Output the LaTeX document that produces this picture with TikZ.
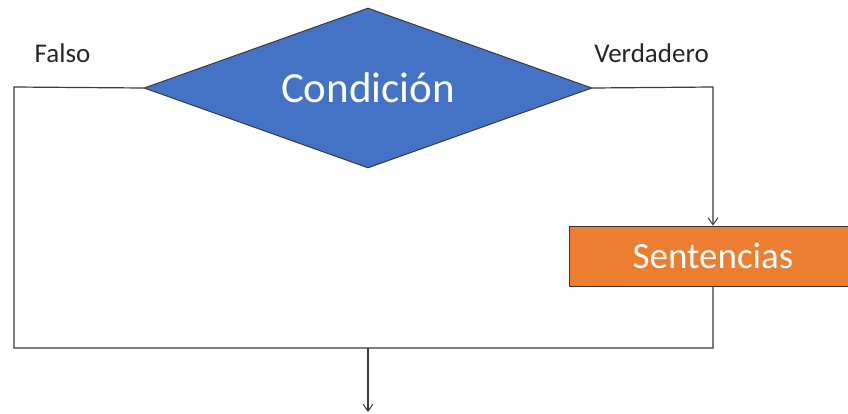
\documentclass[tikz,border=0pt]{standalone}
\usepackage{fontspec}
\setmainfont{Carlito}
\usetikzlibrary{shapes.geometric,arrows.meta}
\definecolor{condblue}{HTML}{4472C4}
\definecolor{sentorange}{HTML}{ED7D31}
\definecolor{linegray}{HTML}{3A3A3A}
\begin{document}
\begin{tikzpicture}[x=1pt,y=-1pt,
  decision/.style={diamond, draw=black!80, line width=0.9pt, fill=condblue,
    minimum width=448pt, minimum height=160pt, inner sep=0pt, aspect=2.8,
    text=white, font=\fontsize{43}{45}\selectfont},
  process/.style={rectangle, draw=black!80, line width=0.9pt, fill=sentorange,
    minimum width=288pt, minimum height=60pt, inner sep=0pt,
    text=white, font=\fontsize{37}{39}\selectfont},
  flow/.style={draw=linegray, line width=1.2pt},
  flowarrow/.style={flow, -{Straight Barb[length=7pt,width=10pt,line width=1pt]}},
  branch/.style={text=black!85, font=\fontsize{27}{29}\selectfont}]
  \useasboundingbox (0,0) rectangle (848,413);

  % decision and statement block
  \node[decision] (cond) at (368,88) {Condición};
  \node[process] (sent) at (713,256) {Sentencias};

  % branch labels
  \node[branch] (lf) at (62.5,53) {Falso};
  \node[branch] (lv) at (651.5,53) {Verdadero};

  % corner points of the routing
  \coordinate (fl) at (14,87);
  \coordinate (tr) at (713,87);
  \coordinate (bl) at (14,348);
  \coordinate (br) at (713,348);
  \coordinate (mid) at (368,348);
  \coordinate (out) at (368,412);

  % false branch and merge line
  \draw[flow] (cond.west) -- (fl) -- (bl) -- (br) -- (sent.south);
  % true branch into the statements
  \draw[flowarrow] (cond.east) -- (tr) -- (sent.north);
  % exit
  \draw[flowarrow] (mid) -- (out);
\end{tikzpicture}
\end{document}
